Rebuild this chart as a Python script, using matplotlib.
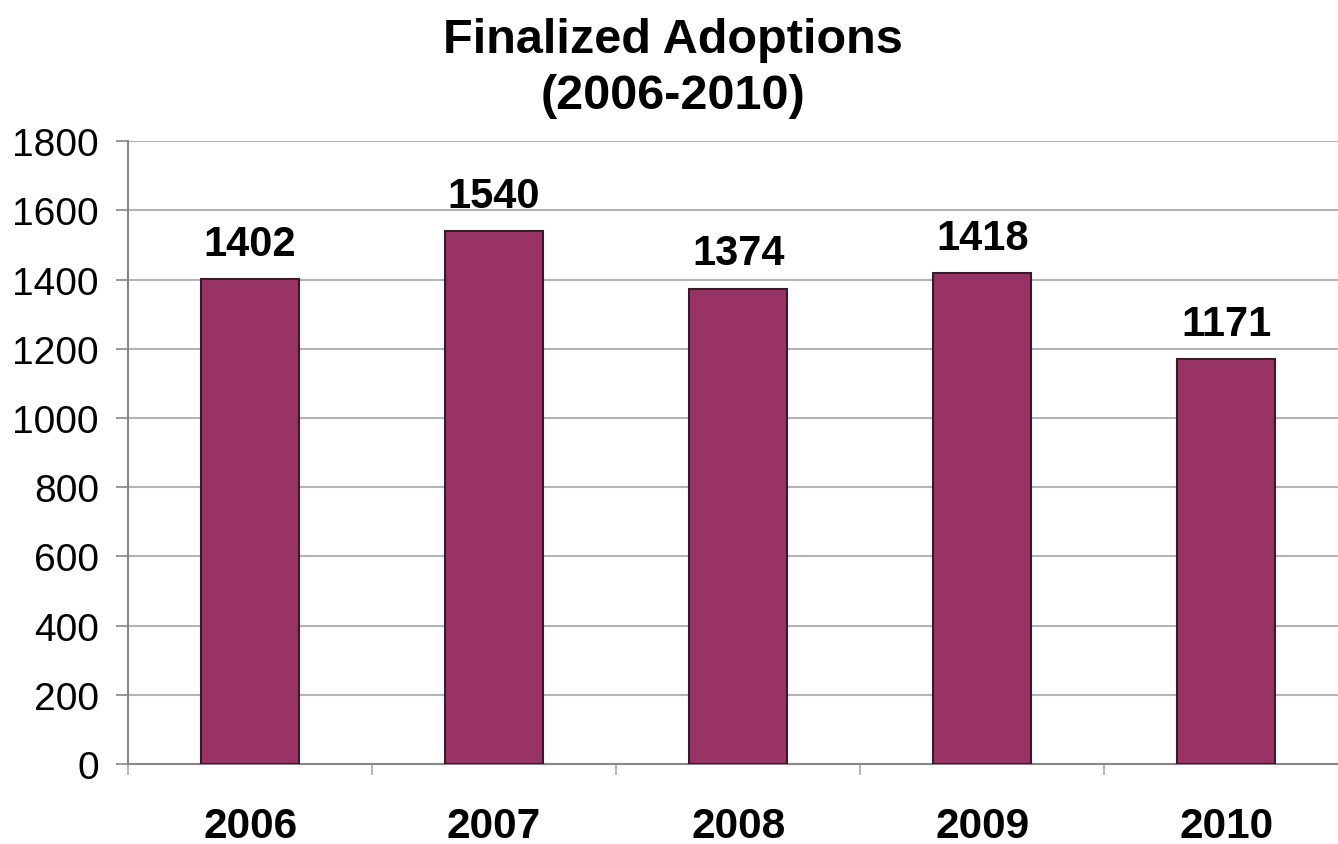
import numpy as np
import matplotlib.pyplot as plt
from matplotlib.ticker import FixedLocator

years = ['2006', '2007', '2008', '2009', '2010']
adoptions = [1402, 1540, 1374, 1418, 1171]

plt.rcParams['font.family'] = ['Liberation Sans', 'DejaVu Sans']

fig = plt.figure(figsize=(13.38, 8.45), dpi=100)
ax = fig.add_axes([0.0957, 0.0947, 0.912, 0.737])

x = np.arange(len(years))
bars = ax.bar(x, adoptions, width=0.4, color='#993366', edgecolor='#3a1a2a', linewidth=1.5, zorder=3)

for xi, v in zip(x, adoptions):
    ax.annotate(str(v), (xi, v), xytext=(0, 11), textcoords='offset points',
                ha='center', va='bottom', fontsize=30, fontweight='bold')

ax.set_xlim(-0.5, 4.5)
ax.set_ylim(0, 1800)
ax.set_yticks(np.arange(0, 1801, 200))
ax.yaxis.grid(True, color='#b4b4b4', linewidth=1.5, zorder=0)
ax.tick_params(axis='y', labelsize=28, length=9, width=1.2, color='#888888', pad=12)

ax.set_xticks(x)
ax.set_xticklabels(years, fontsize=30.5, fontweight='bold')
ax.tick_params(axis='x', which='major', length=0, pad=30)
ax.xaxis.set_minor_locator(FixedLocator(np.arange(-0.5, 5, 1.0)))
ax.tick_params(axis='x', which='minor', length=8, width=1.2, color='#aaaaaa', direction='out')

for side in ['top', 'right']:
    ax.spines[side].set_visible(False)
for side in ['left', 'bottom']:
    ax.spines[side].set_color('#888888')
    ax.spines[side].set_linewidth(1.5)

fig.text(0.503, 0.919, 'Finalized Adoptions\n(2006-2010)', ha='center', va='center',
         fontsize=35, fontweight='bold', linespacing=1.3)

fig.savefig('out.png', dpi=100)
